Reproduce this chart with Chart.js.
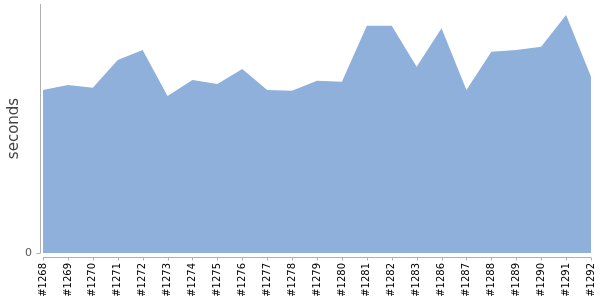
<!DOCTYPE html>
<html><head><meta charset="utf-8">
<script src="https://cdn.jsdelivr.net/npm/chart.js@4/dist/chart.umd.min.js"></script>
<style>html,body{margin:0;padding:0;background:#fff}#wrap{width:600px;height:300px}</style>
</head><body><div id="wrap"><canvas id="c"></canvas></div>
<script>
const categories = ['#1268','#1269','#1270','#1271','#1272','#1273','#1274','#1275','#1276','#1277','#1278','#1279','#1280','#1281','#1282','#1283','#1286','#1287','#1288','#1289','#1290','#1291','#1292'];
const durations = [163,168,165.3,193,203,157,173,169,184,163,162.3,172.3,171.3,227.3,227.3,186.3,224.7,163,201.3,203,206.3,238,176.3];
const yTickValues = [0];
const yMax = 249;

const axisLines = {
  id: 'axisLines',
  afterDraw(chart) {
    const ctx = chart.ctx, a = chart.chartArea, xs = chart.scales.x, ys = chart.scales.y;
    ctx.save();
    ctx.strokeStyle = '#b0b0b0';
    ctx.lineWidth = 1;
    ctx.beginPath();
    const lx = Math.round(a.left - 3) + 0.5;
    ctx.moveTo(lx, a.top); ctx.lineTo(lx, a.bottom);
    yTickValues.forEach(v => { const y = Math.round(ys.getPixelForValue(v)) + 0.5; ctx.moveTo(lx - 4, y); ctx.lineTo(lx, y); });
    const by = Math.round(a.bottom + 4) + 0.5;
    ctx.moveTo(a.left, by); ctx.lineTo(a.right, by);
    categories.forEach((c, i) => { const x = Math.round(xs.getPixelForValue(i)) + 0.5; ctx.moveTo(x, by); ctx.lineTo(x, by + 3); });
    ctx.stroke();
    ctx.restore();
  }
};

new Chart(document.getElementById('c'), {
  type: 'line',
  data: {
    labels: categories,
    datasets: [{
      data: durations,
      fill: 'origin',
      backgroundColor: 'rgb(143,176,218)',
      borderColor: 'rgb(143,176,218)',
      borderWidth: 0,
      pointRadius: 0,
      tension: 0
    }]
  },
  options: {
    responsive: true,
    maintainAspectRatio: false,
    animation: false,
    layout: { padding: { top: 4, right: 9, left: 0, bottom: 0 } },
    plugins: { legend: { display: false }, tooltip: { enabled: false } },
    scales: {
      x: {
        offset: false,
        grid: { display: false, drawTicks: false },
        border: { display: false },
        ticks: { autoSkip: false, maxRotation: 90, minRotation: 90, padding: 10, color: '#000', font: { family: 'DejaVu Sans', size: 10 } },
        afterFit(s) { s.height = 47; s.paddingLeft = 0; s.paddingRight = 0; }
      },
      y: {
        min: 0, max: yMax,
        grid: { display: false, drawTicks: false },
        border: { display: false },
        afterBuildTicks(s) { s.ticks = yTickValues.map(v => ({ value: v })); },
        ticks: { padding: 11, color: '#555', font: { family: 'DejaVu Sans', size: 11 } },
        title: { display: true, text: 'seconds', color: '#444', font: { family: 'DejaVu Sans', size: 15 }, padding: { top: 5, bottom: 0 } },
        afterFit(s) { s.width = 43; s.paddingTop = 0; s.paddingBottom = 0; }
      }
    }
  },
  plugins: [axisLines]
});
</script>
</body></html>
